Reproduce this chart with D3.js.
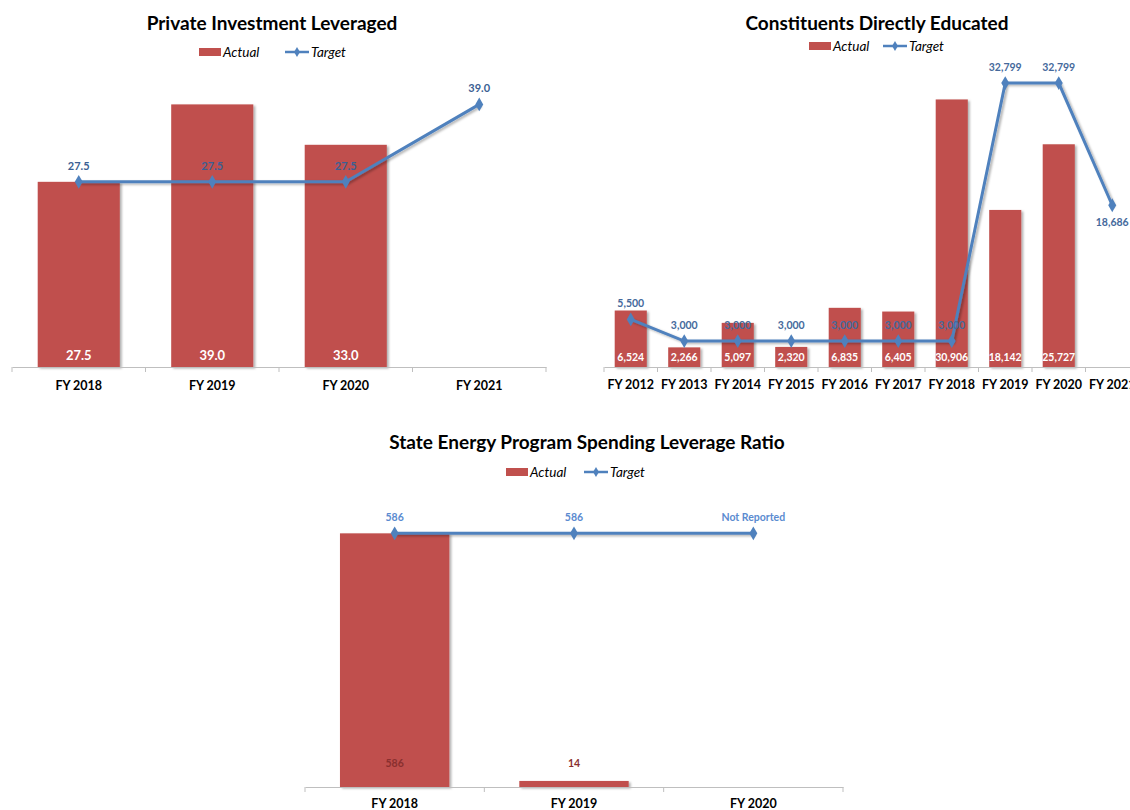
<!DOCTYPE html>
<html><head><meta charset="utf-8">
<script src="https://cdn.jsdelivr.net/npm/d3@7/dist/d3.min.js"></script>
<style>
body{margin:0;background:#fff;}
svg{display:block;font-family:Lato,"Open Sans",sans-serif;}
</style>
</head><body>
<svg id="c" width="1130" height="810"></svg>
<script>
// ---- Chart 1: Private Investment Leveraged ----
const pilCategories = ["FY 2018","FY 2019","FY 2020","FY 2021"];
const pilActual = [27.5, 39.0, 33.0, null];
const pilTarget = [27.5, 27.5, 27.5, 39.0];

// ---- Chart 2: Constituents Directly Educated ----
const cdeCategories = ["FY 2012","FY 2013","FY 2014","FY 2015","FY 2016","FY 2017","FY 2018","FY 2019","FY 2020","FY 2021"];
const cdeActual = [6524, 2266, 5097, 2320, 6835, 6405, 30906, 18142, 25727, null];
const cdeTarget = [5500, 3000, 3000, 3000, 3000, 3000, 3000, 32799, 32799, 18686];

// ---- Chart 3: State Energy Program Spending Leverage Ratio ----
const sepCategories = ["FY 2018","FY 2019","FY 2020"];
const sepActual = [586, 14, null];
const sepTarget = [586, 586, 586];
const sepTargetLabels = ["586","586","Not Reported"];

const seriesNames = ["Actual","Target"];

const BAR = "#c0504d", LINE = "#4f81bd";
const svg = d3.select("#c");

const defs = svg.append("defs");
const f = defs.append("filter").attr("id","sh").attr("filterUnits","userSpaceOnUse")
  .attr("x",0).attr("y",0).attr("width",1130).attr("height",810);
f.append("feDropShadow").attr("dx",2).attr("dy",1.5).attr("stdDeviation",1.2).attr("flood-color","#000").attr("flood-opacity",0.3);

function drawChart(cfg){
  const g = svg.append("g");
  const n = cfg.categories.length;
  const x = d3.scaleBand().domain(cfg.categories).range(cfg.xRange)
    .paddingInner(cfg.pad).paddingOuter(cfg.pad/2);
  const y = d3.scaleLinear().domain([0, cfg.yMax]).range([cfg.y0, cfg.y0 - 303]);
  const cx = c => x(c) + x.bandwidth()/2;

  // title
  g.append("text").attr("x", cfg.titleX).attr("y", cfg.titleY).attr("dy","0.35em")
    .attr("text-anchor","middle").attr("font-size",19).attr("font-weight","bold")
    .attr("fill","#000").text(cfg.title);

  // legend
  const lg = g.append("g").attr("transform",`translate(${cfg.legendX},${cfg.legendY})`);
  lg.append("rect").attr("x",0).attr("y",-4).attr("width",22).attr("height",8).attr("fill",BAR);
  lg.append("text").attr("x",24).attr("dy","0.35em").attr("font-size",13.5).attr("font-style","italic")
    .attr("fill","#000").text(seriesNames[0]);
  lg.append("line").attr("x1",cfg.legendLineDx).attr("x2",cfg.legendLineDx+24).attr("y1",0).attr("y2",0)
    .attr("stroke",LINE).attr("stroke-width",2.5);
  lg.append("path").attr("d", d3.symbol(d3.symbolDiamond, 30)())
    .attr("transform",`translate(${cfg.legendLineDx+12},0)`).attr("fill",LINE);
  lg.append("text").attr("x",cfg.legendLineDx+26).attr("dy","0.35em").attr("font-size",13.5).attr("font-style","italic")
    .attr("fill","#000").text(seriesNames[1]);

  // bars
  const barData = cfg.categories.map((c,i)=>({c, v: cfg.actual[i]})).filter(d=>d.v!=null);
  g.append("g").selectAll("rect").data(barData).join("rect")
    .attr("x", d=>x(d.c)).attr("width", x.bandwidth())
    .attr("y", d=>y(d.v)).attr("height", d=>y(0)-y(d.v))
    .attr("fill", BAR).attr("filter","url(#sh)");

  // axis
  const ax = g.append("g").attr("transform",`translate(0,${cfg.y0})`)
    .call(d3.axisBottom(x).tickSize(0).tickSizeOuter(0).tickPadding(cfg.labelPad));
  ax.select(".domain").attr("stroke","#bfbfbf").attr("stroke-width",1.2);
  ax.selectAll("text").attr("font-size",12.5).attr("font-weight","bold").attr("fill","#000")
    .attr("font-family",'Lato,"Open Sans",sans-serif');
  const step = x.step();
  const bounds = d3.range(n+1).map(i => cfg.xRange[0] + i*step);
  g.append("g").selectAll("line").data(bounds).join("line")
    .attr("x1",d=>d).attr("x2",d=>d).attr("y1",cfg.y0).attr("y2",cfg.y0+5)
    .attr("stroke","#bfbfbf").attr("stroke-width",1);

  // target line
  const tData = cfg.categories.map((c,i)=>({c, v: cfg.target[i], i}));
  g.append("path").datum(tData)
    .attr("d", d3.line().x(d=>cx(d.c)).y(d=>y(d.v)))
    .attr("fill","none").attr("stroke",LINE).attr("stroke-width",3).attr("filter","url(#sh)");
  g.append("g").selectAll("path").data(tData).join("path")
    .attr("d", d3.symbol(d3.symbolDiamond, 55)())
    .attr("transform", d=>`translate(${cx(d.c)},${y(d.v)})`).attr("fill",LINE);

  // actual labels
  g.append("g").selectAll("text").data(barData).join("text")
    .attr("x", d=>cx(d.c)).attr("y", cfg.y0 - cfg.actualLabelOffset).attr("dy","0.35em")
    .attr("text-anchor","middle").attr("font-size",cfg.actualFont).attr("font-weight","bold")
    .attr("fill",cfg.actualLabelColor).text(d=>cfg.fmt(d.v));

  // target labels
  g.append("g").selectAll("text").data(tData).join("text")
    .attr("x", d=>cx(d.c)).attr("y", d=>y(d.v) + (cfg.targetDy ? cfg.targetDy[d.i] : -16)).attr("dy","0.35em")
    .attr("text-anchor","middle").attr("font-size",cfg.targetFont).attr("font-weight","bold")
    .attr("fill",cfg.targetLabelColor)
    .text(d=> cfg.targetLabels ? cfg.targetLabels[d.i] : cfg.fmt(d.v));
}

drawChart({
  title:"Private Investment Leveraged", titleX:272, titleY:23,
  legendX:199, legendY:52, legendLineDx:86,
  categories:pilCategories, actual:pilActual, target:pilTarget,
  xRange:[12,546], pad:0.385, y0:367, yMax:45, labelPad:14,
  fmt:d3.format(".1f"), actualFont:13, actualLabelOffset:12, actualLabelColor:"#fff",
  targetFont:11, targetLabelColor:"#3b5f93"
});

drawChart({
  title:"Constituents Directly Educated", titleX:877, titleY:23,
  legendX:809, legendY:46, legendLineDx:74,
  categories:cdeCategories, actual:cdeActual, target:cdeTarget,
  xRange:[604,1139], pad:0.4, y0:367, yMax:35000, labelPad:13,
  fmt:d3.format(","), actualFont:10.5, actualLabelOffset:10, actualLabelColor:"#fff",
  targetFont:10.5, targetLabelColor:"#45699c",
  targetDy:[-16,-16,-16,-16,-16,-16,-16,-16,-16,17]
});

drawChart({
  title:"State Energy Program Spending Leverage Ratio", titleX:587, titleY:442,
  legendX:506, legendY:472, legendLineDx:78,
  categories:sepCategories, actual:sepActual, target:sepTarget, targetLabels:sepTargetLabels,
  xRange:[305,843], pad:0.39, y0:787, yMax:700, labelPad:12,
  fmt:d3.format(","), actualFont:10.5, actualLabelOffset:24, actualLabelColor:"#8a2f2f",
  targetFont:10.5, targetLabelColor:"#5b8bd0"
});
</script>
</body></html>
